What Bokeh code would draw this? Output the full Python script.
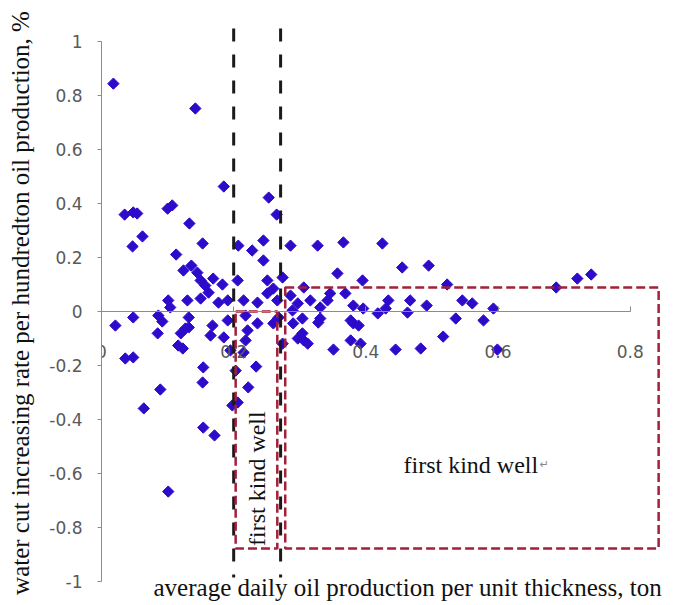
import math
from bokeh.plotting import figure
from bokeh.models import Range1d, FixedTicker, CustomJSTickFormatter, Label
from bokeh.embed import file_html
from bokeh.resources import INLINE

# ---- data ----
x_vals = [0.018, 0.142, 0.185, 0.253, 0.265, 0.035, 0.048, 0.054, 0.100, 0.107,
          0.133, 0.062, 0.047, 0.153, 0.113, 0.207, 0.228, 0.245, 0.245, 0.286,
          0.327, 0.366, 0.425, 0.455, 0.495, 0.357, 0.395, 0.523, 0.688, 0.720,
          0.741,
          0.136, 0.145, 0.150, 0.169, 0.162, 0.150, 0.130, 0.101, 0.104, 0.177,
          0.206, 0.251, 0.274, 0.183, 0.191, 0.215, 0.236, 0.251, 0.260, 0.286,
          0.306, 0.316, 0.297, 0.331, 0.346, 0.369, 0.381, 0.396, 0.434, 0.430,
          0.418, 0.467, 0.463, 0.492, 0.546, 0.561, 0.593, 0.124, 0.157, 0.266,
          0.342,
          0.048, 0.021, 0.086, 0.092, 0.132, 0.132, 0.168, 0.085, 0.120, 0.127,
          0.116, 0.123, 0.165, 0.185, 0.195, 0.036, 0.048, 0.191, 0.218, 0.236,
          0.304, 0.331, 0.289, 0.218, 0.221, 0.260, 0.274, 0.297, 0.306, 0.312,
          0.304, 0.328, 0.351, 0.377, 0.392, 0.381, 0.389, 0.445, 0.483, 0.517,
          0.536, 0.578, 0.599, 0.377, 0.215, 0.268, 0.290,
          0.154, 0.153, 0.089, 0.064, 0.154, 0.171, 0.101, 0.203, 0.234, 0.222,
          0.198, 0.206]
y_vals = [0.844, 0.752, 0.463, 0.422, 0.359, 0.359, 0.367, 0.363, 0.381, 0.393,
          0.326, 0.278, 0.241, 0.252, 0.211, 0.244, 0.226, 0.263, 0.189, 0.244,
          0.244, 0.256, 0.252, 0.163, 0.170, 0.141, 0.115, 0.100, 0.089, 0.122,
          0.137,
          0.170, 0.144, 0.115, 0.122, 0.070, 0.048, 0.041, 0.041, 0.015, 0.033,
          0.115, 0.115, 0.126, 0.100, 0.041, 0.041, 0.033, 0.067, 0.085, 0.059,
          0.089, 0.041, 0.030, 0.015, 0.067, 0.067, 0.022, 0.011, 0.041, 0.011,
          -0.007, 0.041, -0.004, 0.022, 0.041, 0.030, 0.011, 0.152, 0.096, 0.041,
          0.041,
          -0.022, -0.052, -0.015, -0.037, -0.022, -0.059, -0.052, -0.081, -0.081, -0.063,
          -0.126, -0.137, -0.089, -0.096, -0.144, -0.174, -0.170, -0.033, -0.015, -0.044,
          -0.026, -0.026, 0.004, -0.107, -0.070, -0.044, -0.119, -0.100, -0.107, -0.119,
          -0.081, -0.041, -0.141, -0.107, -0.119, -0.044, -0.052, -0.141, -0.137, -0.093,
          -0.026, -0.033, -0.141, -0.033, -0.152, -0.022, -0.044,
          -0.207, -0.263, -0.289, -0.359, -0.430, -0.459, -0.667, -0.219, -0.204, -0.281,
          -0.348, -0.337]

x_ticks = [0, 0.2, 0.4, 0.6, 0.8]
y_ticks = [-1, -0.8, -0.6, -0.4, -0.2, 0, 0.2, 0.4, 0.6, 0.8, 1]

# dashed black boundary lines
bound_x = [0.200, 0.271]
bound_y_top = [1.048, 1.048]
bound_y_bot = [-0.985, -0.985]

# red dashed region boxes
box_left = [0.203, 0.278]
box_right = [0.266, 0.843]
box_bottom = [-0.878, -0.878]
box_top = [0.0, 0.089]

x_title = "average daily oil production per unit thickness, ton"
y_title = "water cut increasing rate per hundredton oil production, %"
region_label = "first kind well"

# ---- figure ----
p = figure(width=674, height=605,
           x_range=Range1d(0, 0.867), y_range=Range1d(-1.089, 1.152),
           output_backend="svg", toolbar_location=None,
           min_border_left=101, min_border_right=0,
           min_border_top=0, min_border_bottom=0)
p.outline_line_color = None
p.xgrid.visible = False
p.ygrid.visible = False
p.background_fill_color = "white"

fmt = CustomJSTickFormatter(code="return (Math.round(tick*10)/10).toString();")

xa = p.xaxis[0]
xa.fixed_location = 0
xa.bounds = (0, 0.8)
xa.ticker = FixedTicker(ticks=x_ticks)
xa.formatter = fmt
xa.major_tick_in = 5
xa.major_tick_out = 0
xa.minor_tick_line_color = None
xa.major_label_standoff = 33
xa.axis_line_color = "#8c8c8c"
xa.major_tick_line_color = "#8c8c8c"
xa.major_label_text_font = "DejaVu Sans"
xa.major_label_text_font_size = "17px"
xa.major_label_text_color = "#595959"

ya = p.yaxis[0]
ya.bounds = (-1, 1)
ya.ticker = FixedTicker(ticks=y_ticks)
ya.formatter = fmt
ya.major_tick_in = 0
ya.major_tick_out = 4
ya.minor_tick_line_color = None
ya.major_label_standoff = 15
ya.axis_line_color = "#8c8c8c"
ya.major_tick_line_color = "#8c8c8c"
ya.major_label_text_font = "DejaVu Sans"
ya.major_label_text_font_size = "17px"
ya.major_label_text_color = "#595959"
ya.axis_label = y_title
ya.axis_label_text_font = "Liberation Serif"
ya.axis_label_text_font_size = "25px"
ya.axis_label_text_font_style = "normal"
ya.axis_label_text_color = "#111111"
ya.axis_label_standoff = 12

p.scatter(x_vals, y_vals, marker="square", size=8, angle=math.pi / 4,
          fill_color="#2E0ACB", line_color="#2E0ACB")

p.segment(x0=bound_x, y0=bound_y_top, x1=bound_x, y1=bound_y_bot,
          line_color="#1a1a1a", line_width=3, line_dash="13 13")

p.quad(left=box_left, right=box_right, bottom=box_bottom, top=box_top,
       fill_alpha=0, line_color="#A3203A", line_width=2.5, line_dash="9 4")

p.add_layout(Label(x=0.0787, y=-1.022, text=x_title, text_font="Liberation Serif",
                   text_font_size="25px", text_baseline="middle", text_align="left",
                   text_color="#111111"))
p.add_layout(Label(x=0.236, y=-0.619, text=region_label, angle=math.pi / 2,
                   text_font="Liberation Serif", text_font_size="24px",
                   text_baseline="middle", text_align="center", text_color="#111111"))
p.add_layout(Label(x=0.457, y=-0.567, text=region_label,
                   text_font="Liberation Serif", text_font_size="24px",
                   text_baseline="alphabetic", text_align="left", text_color="#111111"))
p.add_layout(Label(x=0.663, y=-0.567, text="\u21b5",
                   text_font="DejaVu Sans", text_font_size="11px",
                   text_baseline="alphabetic", text_align="left", text_color="#888888"))

open("out.html", "w").write(file_html(p, INLINE))
